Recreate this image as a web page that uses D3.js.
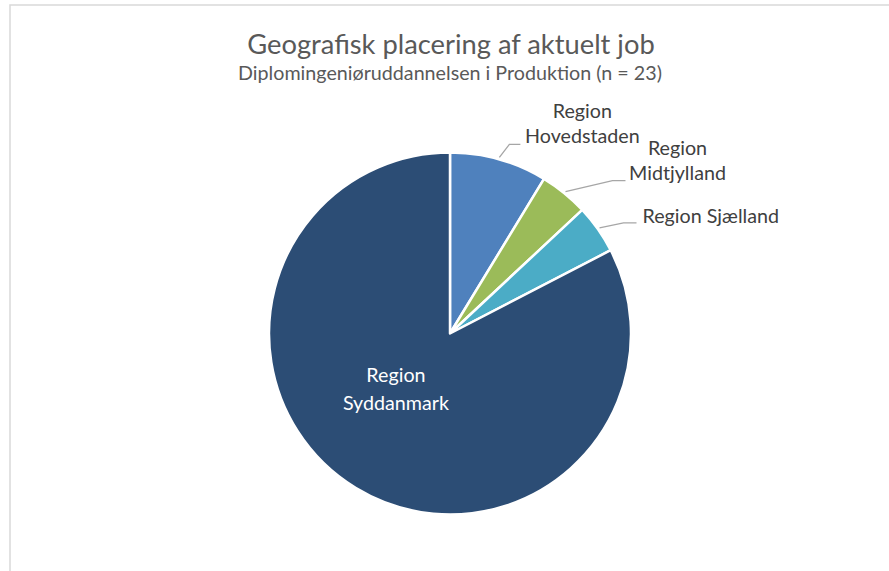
<!DOCTYPE html>
<html>
<head>
<meta charset="utf-8">
<script src="https://cdn.jsdelivr.net/npm/d3@7"></script>
<style>
  body { margin: 0; background: #fff; }
  text { font-family: Lato, "Open Sans", sans-serif; }
</style>
</head>
<body>
<div class="chart"></div>
<script>
// Data (n = 23)
var regions = ["Region Hovedstaden", "Region Midtjylland", "Region Sjælland", "Region Syddanmark"];
var counts = [2, 1, 1, 19];
var labelLines = [["Region", "Hovedstaden"], ["Region", "Midtjylland"], ["Region Sjælland"], ["Region", "Syddanmark"]];
var sliceColors = ["#4f81bd", "#9bbb59", "#4bacc6", "#2c4d75"];

var width = 889,
    height = 571;

var svg = d3.select(".chart")
            .append("svg")
            .attr("width", width)
            .attr("height", height);

// chart frame (only top and left edges are visible in the crop)
svg.append("rect")
   .attr("x", 10)
   .attr("y", 5)
   .attr("width", 1000)
   .attr("height", 700)
   .attr("fill", "none")
   .attr("stroke", "#d9d9d9")
   .attr("stroke-width", 1.5);

// titles
svg.append("text")
   .attr("x", 451)
   .attr("y", 54)
   .attr("text-anchor", "middle")
   .attr("fill", "#595959")
   .style("font-size", "27.3px")
   .text("Geografisk placering af aktuelt job");

svg.append("text")
   .attr("x", 450)
   .attr("y", 80)
   .attr("text-anchor", "middle")
   .attr("fill", "#595959")
   .style("font-size", "19.7px")
   .text("Diplomingeniøruddannelsen i Produktion (n = 23)");

// pie
var cx = 450, cy = 333.5, radius = 181;

var data = regions.map(function(d, i) { return {name: d, value: counts[i], lines: labelLines[i], color: sliceColors[i]}; });

var pie = d3.pie().sort(null).value(function(d) { return d.value; });
var arc = d3.arc().innerRadius(0).outerRadius(radius);
var arcs = pie(data);

var g = svg.append("g").attr("transform", "translate(" + cx + "," + cy + ")");

g.selectAll(".slice")
 .data(arcs)
 .enter()
 .append("path")
 .attr("class", "slice")
 .attr("d", arc)
 .attr("fill", function(d) { return d.data.color; })
 .attr("stroke", "#fff")
 .attr("stroke-width", 2.5)
 .attr("stroke-linejoin", "round");

// outside labels: leader from the arc edge to an elbow, then a short horizontal run
// offsets are relative to the edge point of each slice
var outside = [
  {elbow: [10, -13], run: 11, tx: 83, ty: -39, anchor: "middle"},
  {elbow: [47, -11], run: 13, tx: 112, ty: -37, anchor: "middle"},
  {elbow: [24, -5], run: 13, tx: 43, ty: -5, anchor: "start"}
];

function edgePoint(d, r) {
  var a = (d.startAngle + d.endAngle) / 2;
  return [Math.sin(a) * r, -Math.cos(a) * r];
}

arcs.slice(0, 3).forEach(function(d, i) {
  var o = outside[i];
  var p0 = edgePoint(d, radius + 2);
  var p1 = [p0[0] + o.elbow[0], p0[1] + o.elbow[1]];
  var p2 = [p1[0] + o.run, p1[1]];
  g.append("polyline")
   .attr("points", [p0, p1, p2].map(function(p) { return p.join(","); }).join(" "))
   .attr("fill", "none")
   .attr("stroke", "#a6a6a6")
   .attr("stroke-width", 1.3);

  var t = g.append("text")
           .attr("text-anchor", o.anchor)
           .attr("fill", "#404040")
           .style("font-size", "19.7px");
  d.data.lines.forEach(function(line, j) {
    t.append("tspan")
     .attr("x", p0[0] + o.tx)
     .attr("y", p0[1] + o.ty + j * 25)
     .text(line);
  });
});

// inside label for the big slice
var big = arcs[3];
var c = d3.arc().innerRadius(0).outerRadius(radius * 1.15).centroid(big);
var ti = g.append("text")
          .attr("text-anchor", "middle")
          .attr("fill", "#fff")
          .style("font-size", "19.7px");
big.data.lines.forEach(function(line, j) {
  ti.append("tspan")
    .attr("x", c[0])
    .attr("y", c[1] - 40 + j * 28)
    .text(line);
});
</script>
</body>
</html>
